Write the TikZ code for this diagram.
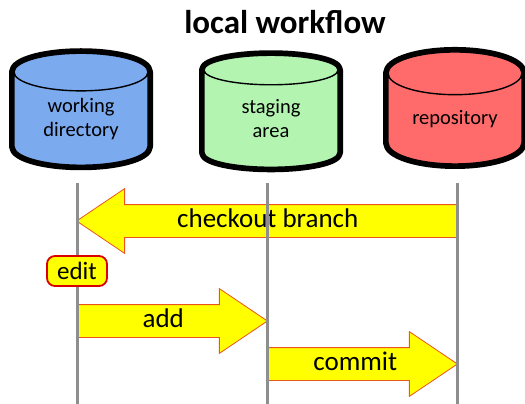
\documentclass[tikz,border=0pt]{standalone}
\usepackage{fontspec}
\setmainfont{Carlito}
\usepackage{tikz}
\usetikzlibrary{shapes.geometric, shapes.arrows, positioning}
\definecolor{blue1}{HTML}{7BAAEE}
\definecolor{green1}{HTML}{B3F4B1}
\definecolor{red1}{HTML}{FF6B6B}
\definecolor{yellow1}{HTML}{FFFF00}
\definecolor{orange1}{HTML}{E8561E}
\definecolor{gray1}{HTML}{8E8E8E}

\begin{document}
\begin{tikzpicture}[x=1pt,y=1pt,semithick]
  \tikzstyle{store}=[cylinder,shape border rotate=90,aspect=0.5,draw=black,
                     line width=1.4pt,minimum width=134pt,minimum height=112pt,
                     inner sep=0pt,align=center,
                     preaction={draw=black,line width=10pt,line join=round},
                     font=\fontsize{20.5}{24}\selectfont]
  \tikzstyle{step arrow}=[single arrow,fill=yellow1,draw=orange1,line width=0.8pt,
                          single arrow head extend=16pt,single arrow tip angle=68,
                          text height=19pt,text depth=6pt,inner xsep=0pt,
                          inner ysep=3.5pt,font=\fontsize{27}{31}\selectfont]
  \tikzstyle{lifeline}=[draw=gray1,line width=3pt]
  \useasboundingbox (0,0) rectangle (525,-404);

  \node[font=\bfseries\fontsize{33}{37}\selectfont] (title) at (285,-22) {local workflow};

  \node[store,fill=blue1]     (wd) at (81,-119)  {working\\directory};
  \node[store,fill=green1]    (sa) at (271,-119) {staging\\area};
  \node[store,fill=red1]      (rp) at (455,-119) {repository};

  \coordinate (wd-top) at (77,-183);  \coordinate (wd-end) at (77,-404);
  \coordinate (sa-top) at (267,-183); \coordinate (sa-end) at (267,-404);
  \coordinate (rp-top) at (457,-183); \coordinate (rp-end) at (457,-404);

  % arrows between the lifelines
  \node[step arrow,shape border rotate=180,minimum height=380pt,anchor=tail]
       (checkout) at (457,-221) {checkout branch\hspace*{22pt}};
  \node[step arrow,minimum height=190pt,anchor=tail] (add)    at (77,-321)  {\hspace*{6pt}add};
  \node[step arrow,minimum height=190pt,anchor=tail] (commit) at (267,-364) {\hspace*{10pt}commit};

  \path[lifeline] (wd-top) -- (wd-end)
                  (sa-top) -- (sa-end)
                  (rp-top) -- (rp-end);

  \node[draw=red!85!black,fill=yellow1,line width=1.8pt,rounded corners=8pt,
        minimum width=60pt,minimum height=30pt,inner sep=0pt,
        font=\fontsize{25}{29}\selectfont] (edit) at (77,-271) {edit};
\end{tikzpicture}
\end{document}
